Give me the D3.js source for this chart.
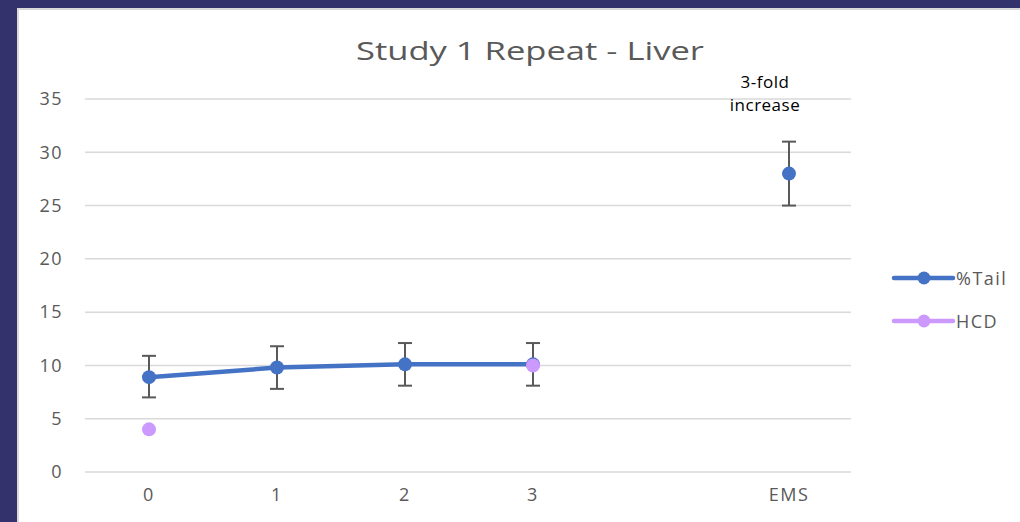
<!DOCTYPE html>
<html>
<head>
<meta charset="utf-8">
<script src="https://cdn.jsdelivr.net/npm/d3@7"></script>
<style>
  body { margin: 0; background: #34326d; }
  svg { display: block; }
</style>
</head>
<body>
<div id="chart"></div>
<script>
// Categories on the x axis (the blank one keeps the gap before EMS)
const categories = ["0", "1", "2", "3", "", "EMS"];

// %Tail means and error bar ends
const tailValues = [8.9, 9.8, 10.1, 10.1, null, 28.0];
const tailLow = [7.0, 7.8, 8.1, 8.1, null, 25.0];
const tailHigh = [10.9, 11.8, 12.1, 12.1, null, 31.0];

// HCD points
const hcdValues = [4.0, null, null, 10.0, null, null];

const yTicks = [0, 5, 10, 15, 20, 25, 30, 35];
const seriesNames = ["%Tail", "HCD"];

const width = 1020;
const height = 522;
const margin = { top: 99, right: 167, bottom: 50, left: 85 };

const svg = d3
  .select("#chart")
  .append("svg")
  .attr("width", width)
  .attr("height", height);

// White chart panel inside the dark frame
svg.append("rect").attr("x", 0).attr("y", 0).attr("width", width).attr("height", height).attr("fill", "#34326d");
svg.append("rect").attr("x", 17).attr("y", 8).attr("width", width - 17).attr("height", height - 8).attr("fill", "#d9d9d9");
svg.append("rect").attr("x", 19).attr("y", 10).attr("width", width - 19).attr("height", height - 10).attr("fill", "#ffffff");

const xScale = d3
  .scaleBand()
  .domain(categories.map((d, i) => i))
  .range([margin.left, margin.left + 768]);

const yScale = d3
  .scaleLinear()
  .domain([0, 35])
  .range([472, margin.top]);

const cx = (i) => xScale(i) + xScale.bandwidth() / 2;

// Gridlines
svg
  .append("g")
  .selectAll("line")
  .data(yTicks)
  .enter()
  .append("line")
  .attr("x1", margin.left)
  .attr("x2", 851)
  .attr("y1", (d) => yScale(d))
  .attr("y2", (d) => yScale(d))
  .attr("stroke", "#d9d9d9")
  .attr("stroke-width", 1.5);

// Y axis labels
const yAxis = svg
  .append("g")
  .attr("transform", "translate(72,0)")
  .call(d3.axisLeft(yScale).tickValues(yTicks).tickSize(0).tickPadding(9));
yAxis.select(".domain").remove();
yAxis
  .selectAll("text")
  .attr("fill", "#595959")
  .attr("font-family", "Open Sans")
  .attr("font-size", "18px")
  .attr("letter-spacing", "1.5px");

// X axis labels
const xAxis = svg
  .append("g")
  .attr("transform", "translate(0,480)")
  .call(d3.axisBottom(xScale).tickFormat((i) => categories[i]).tickSize(0).tickPadding(8));
xAxis.select(".domain").remove();
xAxis
  .selectAll("text")
  .attr("fill", "#595959")
  .attr("font-family", "Open Sans")
  .attr("font-size", "18px")
  .attr("letter-spacing", "1.5px");

// Title
svg
  .append("text")
  .attr("x", 530)
  .attr("y", 60)
  .attr("text-anchor", "middle")
  .attr("fill", "#595959")
  .attr("font-family", "Open Sans")
  .attr("font-size", "26px")
  .attr("textLength", 348)
  .attr("lengthAdjust", "spacingAndGlyphs")
  .text("Study 1 Repeat - Liver");

// Annotation over EMS
svg
  .append("text")
  .attr("x", cx(5) - 24)
  .attr("y", 88)
  .attr("text-anchor", "middle")
  .attr("fill", "#000")
  .attr("font-family", "Open Sans")
  .attr("font-size", "17px")
  .attr("letter-spacing", "0.5px")
  .text("3-fold");
svg
  .append("text")
  .attr("x", cx(5) - 24)
  .attr("y", 111)
  .attr("text-anchor", "middle")
  .attr("fill", "#000")
  .attr("font-family", "Open Sans")
  .attr("font-size", "17px")
  .attr("letter-spacing", "0.5px")
  .text("increase");

// %Tail line (breaks where there is no value)
const line = d3
  .line()
  .defined((d) => d.v != null)
  .x((d) => cx(d.i))
  .y((d) => yScale(d.v));

const tailData = tailValues.map((v, i) => ({ i, v }));
svg
  .append("path")
  .datum(tailData.slice(0, 4))
  .attr("d", line)
  .attr("fill", "none")
  .attr("stroke", "#4472c4")
  .attr("stroke-width", 4.5)
  .attr("stroke-linejoin", "round");

// Error bars
const errData = tailValues
  .map((v, i) => ({ i, lo: tailLow[i], hi: tailHigh[i] }))
  .filter((d) => d.lo != null);
const errG = svg.append("g").attr("stroke", "#595959").attr("stroke-width", 2);
errData.forEach((d) => {
  errG.append("line").attr("x1", cx(d.i)).attr("x2", cx(d.i)).attr("y1", yScale(d.lo)).attr("y2", yScale(d.hi));
  errG.append("line").attr("x1", cx(d.i) - 7).attr("x2", cx(d.i) + 7).attr("y1", yScale(d.lo)).attr("y2", yScale(d.lo));
  errG.append("line").attr("x1", cx(d.i) - 7).attr("x2", cx(d.i) + 7).attr("y1", yScale(d.hi)).attr("y2", yScale(d.hi));
});

// %Tail markers
svg
  .append("g")
  .selectAll("circle")
  .data(tailData.filter((d) => d.v != null))
  .enter()
  .append("circle")
  .attr("cx", (d) => cx(d.i))
  .attr("cy", (d) => yScale(d.v))
  .attr("r", 7)
  .attr("fill", "#4472c4");

// HCD markers
svg
  .append("g")
  .selectAll("circle")
  .data(hcdValues.map((v, i) => ({ i, v })).filter((d) => d.v != null))
  .enter()
  .append("circle")
  .attr("cx", (d) => cx(d.i))
  .attr("cy", (d) => yScale(d.v))
  .attr("r", 7)
  .attr("fill", "#cc99ff");

// Legend
const legendColors = ["#4472c4", "#cc99ff"];
seriesNames.forEach((name, k) => {
  const y = 278 + k * 43;
  svg.append("line").attr("x1", 894).attr("x2", 953).attr("y1", y).attr("y2", y)
    .attr("stroke", legendColors[k]).attr("stroke-width", 4.5).attr("stroke-linecap", "round");
  svg.append("circle").attr("cx", 924).attr("cy", y).attr("r", 6.5).attr("fill", legendColors[k]);
  svg.append("text").attr("x", 956).attr("y", y + 7)
    .attr("fill", "#595959").attr("font-family", "Open Sans").attr("font-size", "18px")
    .attr("letter-spacing", "1.5px")
    .text(name);
});
</script>
</body>
</html>
